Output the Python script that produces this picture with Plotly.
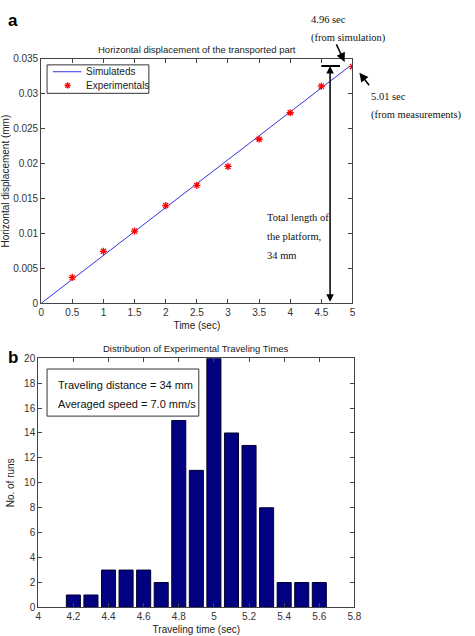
import plotly.graph_objects as go

# ---- data ----
sim_time = [0, 4.96]
sim_disp = [0, 0.034]
exp_time = [0.5, 1.0, 1.5, 2.0, 2.5, 3.0, 3.5, 4.0, 4.5, 5.0]
exp_disp = [0.0037, 0.00745, 0.01035, 0.0140, 0.0169, 0.0196, 0.0235, 0.0273, 0.0311, 0.0339]

hist_time = [4.2, 4.3, 4.4, 4.5, 4.6, 4.7, 4.8, 4.9, 5.0, 5.1, 5.2, 5.3, 5.4, 5.5, 5.6]
hist_runs = [1, 1, 3, 3, 3, 2, 15, 11, 20, 14, 13, 8, 2, 2, 2]

xa_ticks = [0, 0.5, 1, 1.5, 2, 2.5, 3, 3.5, 4, 4.5, 5]
ya_ticks = [0, 0.005, 0.01, 0.015, 0.02, 0.025, 0.03, 0.035]
xb_ticks = [4, 4.2, 4.4, 4.6, 4.8, 5, 5.2, 5.4, 5.6, 5.8]
yb_ticks = list(range(0, 21, 2))

W, H = 475, 636
def px(x):
    return x / W
def py(y):
    return 1 - y / H

SANS = "Liberation Sans, Arial, sans-serif"
SERIF = "Liberation Serif, Times New Roman, serif"
TICKC = "#333333"
LINEC = "#3333dd"

fig = go.Figure()
fig.add_trace(go.Scatter(x=sim_time, y=sim_disp, mode="lines", name="Simulateds",
                         line=dict(color=LINEC, width=1), xaxis="x", yaxis="y"))
fig.add_trace(go.Scatter(x=exp_time, y=exp_disp, mode="markers", name="Experimentals",
                         marker=dict(symbol="asterisk-open", size=6, color="red",
                                     line=dict(color="red", width=1.3)),
                         xaxis="x", yaxis="y"))
fig.add_trace(go.Bar(x=hist_time, y=hist_runs, width=0.08,
                     marker=dict(color="#000080", line=dict(color="#000030", width=1)),
                     xaxis="x2", yaxis="y2"))

axis_common = dict(showgrid=False, zeroline=False, ticks="inside", ticklen=4,
                   tickcolor="#444", showline=True, linecolor="#444", linewidth=1,
                   mirror="ticks", tickfont=dict(family=SANS, size=10, color=TICKC))
tfont = dict(family=SANS, size=10, color="#222")

fig.update_layout(
    width=W, height=H, margin=dict(l=0, r=0, t=0, b=0),
    plot_bgcolor="white", paper_bgcolor="white",
    showlegend=False,
    xaxis=dict(domain=[px(39), px(357)], range=[0, 5], tickvals=xa_ticks,
               ticktext=[f"{v:g}" for v in xa_ticks], anchor="y",
               title=dict(text="Time (sec)", font=tfont, standoff=4),
               **axis_common),
    yaxis=dict(domain=[py(303), py(54)], range=[0, 0.035], tickvals=ya_ticks,
               ticktext=[f"{v:g}" for v in ya_ticks], anchor="x",
               title=dict(text="Horizontal displacement (mm)", font=tfont, standoff=3),
               **axis_common),
    xaxis2=dict(domain=[px(36), px(359)], range=[4, 5.8], tickvals=xb_ticks,
                ticktext=[f"{v:g}" for v in xb_ticks], anchor="y2",
                title=dict(text="Traveling time (sec)", font=tfont, standoff=4),
                **axis_common),
    yaxis2=dict(domain=[py(613), py(359)], range=[0, 20], tickvals=yb_ticks,
                anchor="x2",
                title=dict(text="No. of runs", font=tfont, standoff=7),
                **axis_common),
)

def note(text, x, y, font, xanchor="left"):
    return dict(text=text, x=px(x), y=py(y), xref="paper", yref="paper",
                xanchor=xanchor, yanchor="middle", showarrow=False, font=font)

ann = []
# titles
ann.append(note("Horizontal displacement of the transported part", 198, 44,
                dict(family=SANS, size=9.5, color="#222"), "center"))
ann.append(note("Distribution of Experimental Traveling Times", 197, 349,
                dict(family=SANS, size=9.5, color="#222"), "center"))
# panel labels
ann.append(note("<b>a</b>", 3, 15, dict(family=SANS, size=17, color="black")))
ann.append(note("<b>b</b>", 3, 358, dict(family=SANS, size=17, color="black")))
# serif annotations
for t, x, y in [("4.96 sec", 313, 14), ("(from simulation)", 313, 33),
                ("5.01 sec", 374, 92), ("(from measurements)", 374, 111),
                ("Total length of", 268, 216), ("the platform,", 268, 235), ("34 mm", 268, 254)]:
    ann.append(note(t, x, y, dict(family=SERIF, size=10.5, color="#111")))
# legend texts (panel a)
ann.append(note("Simulateds", 83, 67, dict(family=SANS, size=10, color="#222")))
ann.append(note("Experimentals", 83, 81, dict(family=SANS, size=10, color="#222")))
# arrows to text
ann.append(dict(x=px(349), y=py(57), xref="paper", yref="paper", ax=-9, ay=-19, text="",
                showarrow=True, arrowhead=2, arrowsize=1.2, arrowwidth=1.5, arrowcolor="black"))
ann.append(dict(x=px(364), y=py(68), xref="paper", yref="paper", ax=11, ay=14, text="",
                showarrow=True, arrowhead=2, arrowsize=1.2, arrowwidth=1.5, arrowcolor="black"))
# double arrow (platform length)
ann.append(dict(x=4.64, y=0.034, xref="x", yref="y", ax=4.64, ay=0, axref="x", ayref="y",
                text="", showarrow=True, arrowhead=2, startarrowhead=2, arrowside="end+start",
                arrowsize=1, arrowwidth=1.5, arrowcolor="black"))
# text box lines in panel b
ann.append(note("Traveling distance = 34 mm", 54, 386, dict(family=SANS, size=11, color="#111")))
ann.append(note("Averaged speed = 7.0 mm/s", 54, 406, dict(family=SANS, size=11, color="#111")))
fig.update_layout(annotations=ann)

# legend sample asterisk (drawn as small strokes)
cx, cy, r = 66, 81, 3.2
star = [dict(type="line", xref="paper", yref="paper", x0=px(cx - r), x1=px(cx + r), y0=py(cy), y1=py(cy),
             line=dict(color="red", width=1.3)),
        dict(type="line", xref="paper", yref="paper", x0=px(cx), x1=px(cx), y0=py(cy - r), y1=py(cy + r),
             line=dict(color="red", width=1.3)),
        dict(type="line", xref="paper", yref="paper", x0=px(cx - r * .7), x1=px(cx + r * .7),
             y0=py(cy - r * .7), y1=py(cy + r * .7), line=dict(color="red", width=1.3)),
        dict(type="line", xref="paper", yref="paper", x0=px(cx - r * .7), x1=px(cx + r * .7),
             y0=py(cy + r * .7), y1=py(cy - r * .7), line=dict(color="red", width=1.3))]

fig.update_layout(shapes=[
    dict(type="line", xref="x", yref="y", x0=4.5, x1=4.8, y0=0.034, y1=0.034,
         line=dict(color="black", width=2)),
    # legend box panel a
    dict(type="rect", xref="paper", yref="paper", x0=px(45), x1=px(149), y0=py(60), y1=py(89),
         line=dict(color="#333", width=1), fillcolor="white"),
    dict(type="line", xref="paper", yref="paper", x0=px(51), x1=px(80), y0=py(67), y1=py(67),
         line=dict(color=LINEC, width=1)),
    *star,
    # text box panel b
    dict(type="rect", xref="paper", yref="paper", x0=px(45), x1=px(200), y0=py(370), y1=py(418),
         line=dict(color="#333", width=1), fillcolor="rgba(0,0,0,0)"),
])

fig.write_html("out.html")
